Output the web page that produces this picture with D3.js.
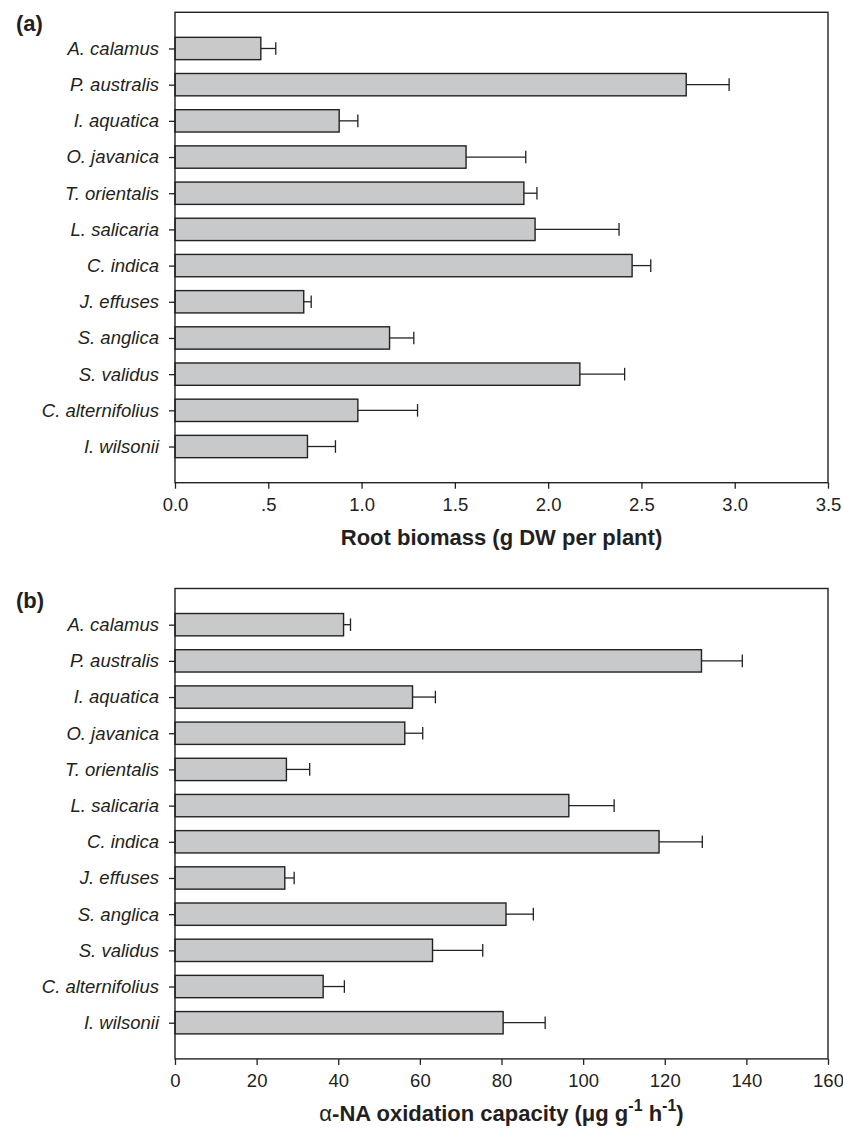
<!DOCTYPE html>
<html>
<head>
<meta charset="utf-8">
<script src="https://cdn.jsdelivr.net/npm/d3@7"></script>
<style>
  body { margin: 0; background: #fff; }
  text { font-family: "Liberation Sans", Arial, sans-serif; fill: #231f20; }
</style>
</head>
<body>
<script>
// species, top to bottom
const species = ["A. calamus", "P. australis", "I. aquatica", "O. javanica", "T. orientalis",
    "L. salicaria", "C. indica", "J. effuses", "S. anglica", "S. validus",
    "C. alternifolius", "I. wilsonii"];

// (a) root biomass, g DW per plant
const biomass = [0.46, 2.74, 0.88, 1.56, 1.87, 1.93, 2.45, 0.69, 1.15, 2.17, 0.98, 0.71];
const biomassErr = [0.08, 0.23, 0.10, 0.32, 0.07, 0.45, 0.10, 0.04, 0.13, 0.24, 0.32, 0.15];
const biomassTicks = [0, 0.5, 1, 1.5, 2, 2.5, 3, 3.5];
const biomassTickLabels = ["0.0", ".5", "1.0", "1.5", "2.0", "2.5", "3.0", "3.5"];

// (b) alpha-NA oxidation capacity, ug g-1 h-1
const oxidation = [41.3, 129.0, 58.2, 56.3, 27.3, 96.5, 118.6, 26.9, 81.1, 63.1, 36.3, 80.4];
const oxidationErr = [1.7, 10.0, 5.6, 4.4, 5.7, 11.1, 10.6, 2.3, 6.7, 12.3, 5.2, 10.3];
const oxidationTicks = [0, 20, 40, 60, 80, 100, 120, 140, 160];
const oxidationTickLabels = ["0", "20", "40", "60", "80", "100", "120", "140", "160"];

const W = 843, H = 1128;
const left = 175, right = 828, plotH = 470.4;

const svg = d3.select('body').append('svg')
    .attr('width', W)
    .attr('height', H);

function drawPanel(top, letter, values, errs, ticks, tickLabels, maxVal, titleFn) {
    const g = svg.append('g').attr('transform', `translate(0,${top})`);

    const x = d3.scaleLinear().domain([0, maxVal]).range([left, right]);
    const y = d3.scalePoint().domain(species).range([0, plotH]).padding(1);
    const barH = y.step() * 0.617;

    // bars
    g.selectAll('rect.bar')
        .data(species)
        .join('rect')
        .attr('class', 'bar')
        .attr('x', x(0))
        .attr('y', d => y(d) - barH / 2)
        .attr('width', (d, i) => x(values[i]) - x(0))
        .attr('height', barH)
        .attr('fill', '#c8c9cb')
        .attr('stroke', '#222')
        .attr('stroke-width', 1.4);

    // error bars (one-sided)
    const eb = g.selectAll('g.err')
        .data(species)
        .join('g')
        .attr('class', 'err');
    eb.append('line')
        .attr('x1', (d, i) => x(values[i]))
        .attr('x2', (d, i) => x(values[i] + errs[i]))
        .attr('y1', d => y(d))
        .attr('y2', d => y(d));
    eb.append('line')
        .attr('x1', (d, i) => x(values[i] + errs[i]))
        .attr('x2', (d, i) => x(values[i] + errs[i]))
        .attr('y1', d => y(d) - 6.3)
        .attr('y2', d => y(d) + 6.3);
    eb.selectAll('line').attr('stroke', '#222').attr('stroke-width', 1.3);

    // axes
    const xaxis = d3.axisBottom(x)
        .tickValues(ticks)
        .tickFormat((d, i) => tickLabels[i])
        .tickSize(6)
        .tickSizeOuter(0)
        .tickPadding(9);
    const gx = g.append('g')
        .attr('transform', `translate(0,${plotH})`)
        .call(xaxis);
    gx.select('.domain').remove();
    gx.selectAll('line').attr('stroke', '#222').attr('stroke-width', 1.3);
    gx.selectAll('text').attr('font-size', '18.5px').attr('fill', '#231f20');

    const yaxis = d3.axisLeft(y)
        .tickSize(6)
        .tickSizeOuter(0)
        .tickPadding(10);
    const gy = g.append('g')
        .attr('transform', `translate(${left},0)`)
        .call(yaxis);
    gy.select('.domain').remove();
    gy.selectAll('line').attr('stroke', '#222').attr('stroke-width', 1.3);
    gy.selectAll('text')
        .attr('font-size', '18.5px')
        .attr('font-style', 'italic')
        .attr('fill', '#231f20');

    // frame
    g.append('rect')
        .attr('x', left)
        .attr('y', 0)
        .attr('width', right - left)
        .attr('height', plotH)
        .attr('fill', 'none')
        .attr('stroke', '#222')
        .attr('stroke-width', 1.4);

    // axis title
    const title = g.append('text')
        .attr('x', (left + right) / 2)
        .attr('y', plotH + 62)
        .attr('text-anchor', 'middle')
        .attr('font-size', '22px')
        .attr('font-weight', 'bold');
    titleFn(title);

    // panel letter
    svg.append('text')
        .attr('x', 16)
        .attr('y', top + 19)
        .attr('font-size', '22px')
        .attr('font-weight', 'bold')
        .text(letter);
}

drawPanel(12.3, '(a)', biomass, biomassErr, biomassTicks, biomassTickLabels, 3.5,
    t => t.text('Root biomass (g DW per plant)'));

drawPanel(588.5, '(b)', oxidation, oxidationErr, oxidationTicks, oxidationTickLabels, 160,
    t => {
        t.append('tspan').attr('font-weight', 'normal').text('\u03b1');
        t.append('tspan').text('-NA oxidation capacity (\u03bcg g');
        t.append('tspan').attr('dy', -10).attr('font-size', '16px').text('-1');
        t.append('tspan').attr('dy', 10).text(' h');
        t.append('tspan').attr('dy', -10).attr('font-size', '16px').text('-1');
        t.append('tspan').attr('dy', 10).text(')');
    });
</script>
</body>
</html>
